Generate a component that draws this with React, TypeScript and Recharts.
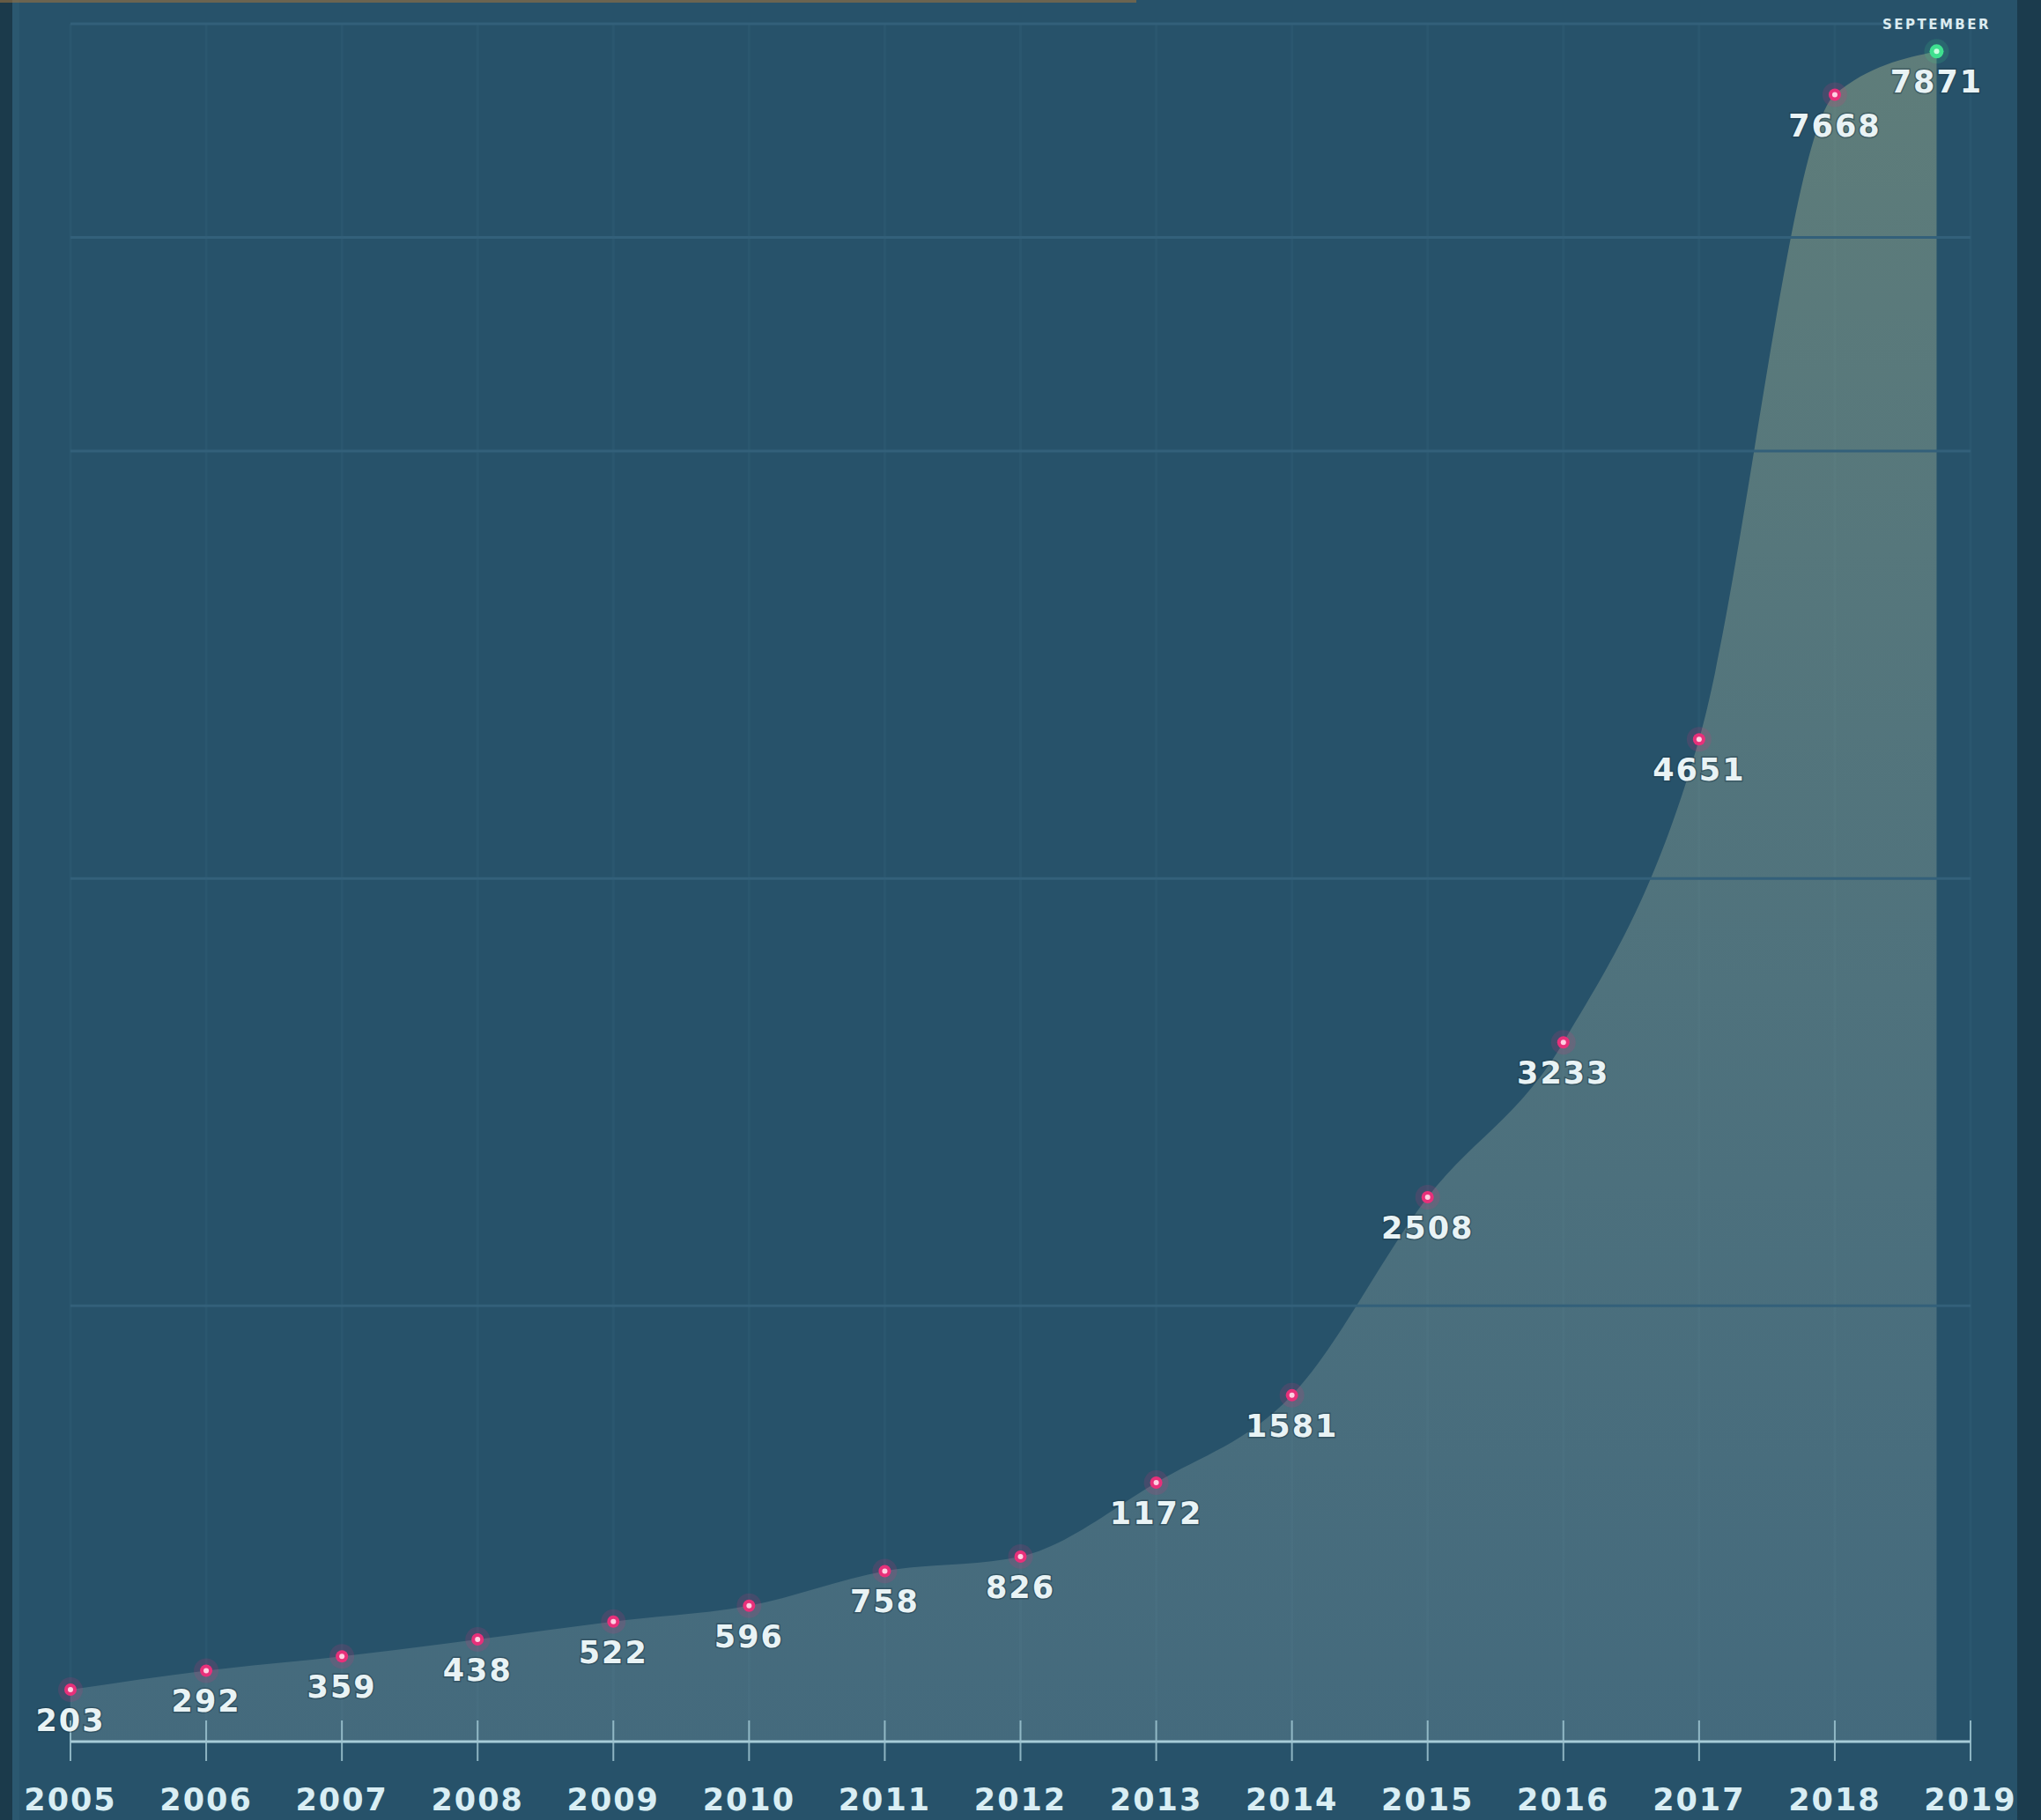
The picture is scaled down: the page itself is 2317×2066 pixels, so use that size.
import { AreaChart, Area, XAxis, YAxis, ReferenceLine, CartesianGrid, LabelList } from 'recharts';

// yearly totals; the last entry is the running total as of September 2018
const YEARS = [2005, 2006, 2007, 2008, 2009, 2010, 2011, 2012, 2013, 2014, 2015, 2016, 2017, 2018, 2018.75];
const COUNTS = [203, 292, 359, 438, 522, 596, 758, 826, 1172, 1581, 2508, 3233, 4651, 7668, 7871];
const YEAR_TICKS = [2005, 2006, 2007, 2008, 2009, 2010, 2011, 2012, 2013, 2014, 2015, 2016, 2017, 2018, 2019];
const GRID_VALUES = [2000, 4000, 6000, 7000, 8000];
const LATEST_NOTE = 'SEPTEMBER';

const W = 2317;
const H = 2066;
const BG = '#27526a';
const FONT = "'DejaVu Sans', sans-serif";

const data = YEARS.map((year, i) => ({ year, count: COUNTS[i] }));
const lastIndex = COUNTS.length - 1;

function Marker(props: any) {
  const { cx, cy, index } = props;
  if (cx == null || cy == null) return null;
  const latest = index === lastIndex;
  const color = latest ? '#3fe08f' : '#e8307a';
  const core = latest ? '#c9ffe0' : '#ffd0e2';
  return (
    <g>
      <circle cx={cx} cy={cy} r={14} fill={color} opacity={0.15} />
      <circle cx={cx} cy={cy} r={latest ? 8 : 7} fill={color} />
      <circle cx={cx} cy={cy} r={3} fill={core} />
    </g>
  );
}

function ValueLabel(props: any) {
  const { x, y, value, index } = props;
  if (x == null || y == null) return null;
  const latest = index === lastIndex;
  return (
    <g>
      <text
        x={x}
        y={y + 47}
        textAnchor="middle"
        fontFamily={FONT}
        fontWeight="bold"
        fontSize={35}
        letterSpacing={2}
        fill="#e9f3f5"
        stroke="#1a3644"
        strokeWidth={3}
        strokeOpacity={0.45}
        paintOrder="stroke"
      >
        {value}
      </text>
      {latest && (
        <text
          x={x}
          y={y - 25}
          textAnchor="middle"
          fontFamily={FONT}
          fontWeight="bold"
          fontSize={15}
          letterSpacing={2.5}
          fill="#dcecf0"
        >
          {LATEST_NOTE}
        </text>
      )}
    </g>
  );
}

function YearTick(props: any) {
  const { x, y, payload } = props;
  return (
    <g>
      <line x1={x} x2={x} y1={y - 24} y2={y + 22} stroke="#9fc6d2" strokeWidth={2} opacity={0.85} />
      <text
        x={x}
        y={y + 78}
        textAnchor="middle"
        fontFamily={FONT}
        fontWeight="bold"
        fontSize={35}
        letterSpacing={2}
        fill="#d9eef4"
      >
        {payload.value}
      </text>
    </g>
  );
}

export default function App() {
  return (
    <div style={{ position: 'absolute', left: 0, top: 0, width: W, height: H, background: BG, overflow: 'hidden' }}>
      <div style={{ position: 'absolute', left: 0, top: 0, width: 14, height: H, background: '#1b3a4b' }} />
      <div style={{ position: 'absolute', left: 14, top: 0, width: 8, height: H, background: '#2b5870' }} />
      <div style={{ position: 'absolute', left: 2290, top: 0, width: 27, height: H, background: '#1b3b4d' }} />
      <div style={{ position: 'absolute', left: 0, top: 0, width: 1290, height: 3, background: '#9a7240', opacity: 0.6 }} />
      <div style={{ position: 'absolute', left: 0, top: 0 }}>
        <AreaChart width={W} height={H} data={data} margin={{ top: 27, right: 80, bottom: 29, left: 80 }}>
          <defs>
            <linearGradient id="totalFill" x1="0" y1="0" x2="0" y2="1">
              <stop offset="0%" stopColor="#8ca087" stopOpacity={0.55} />
              <stop offset="100%" stopColor="#7a97a0" stopOpacity={0.35} />
            </linearGradient>
          </defs>
          <CartesianGrid horizontal={false} stroke="#2b576f" strokeWidth={3} />
          {GRID_VALUES.map((v) => (
            <ReferenceLine key={v} y={v} stroke="#33607a" strokeWidth={3} />
          ))}
          <XAxis
            dataKey="year"
            type="number"
            domain={[2005, 2019]}
            ticks={YEAR_TICKS}
            interval={0}
            height={60}
            tickSize={0}
            tickMargin={0}
            tickLine={false}
            axisLine={{ stroke: '#a7ccd8', strokeWidth: 3 }}
            tick={<YearTick />}
          />
          <YAxis hide type="number" domain={[-40, 8000]} />
          <Area
            type="monotone"
            dataKey="count"
            baseValue="dataMin"
            stroke="none"
            fill="url(#totalFill)"
            fillOpacity={1}
            isAnimationActive={false}
            dot={(p: any) => <Marker key={p.index} {...p} />}
            activeDot={false}
          >
            <LabelList dataKey="count" content={<ValueLabel />} />
          </Area>
        </AreaChart>
      </div>
    </div>
  );
}
